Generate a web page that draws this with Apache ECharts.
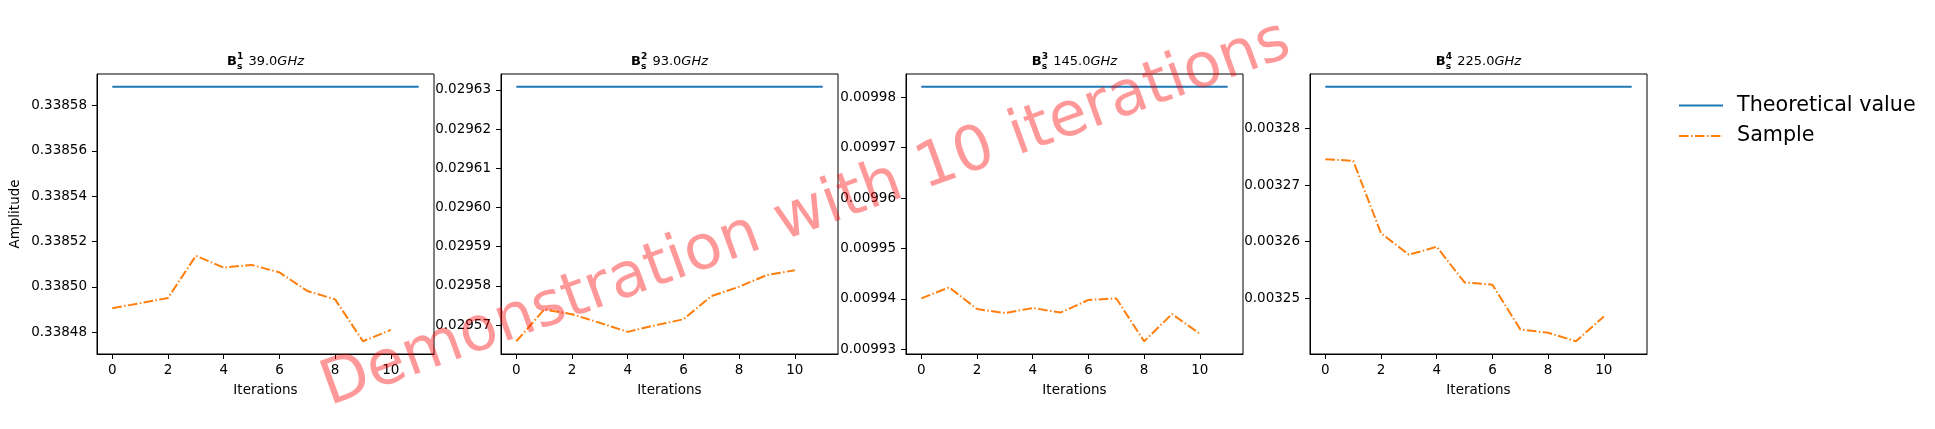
<!DOCTYPE html>
<html>
<head>
<meta charset="utf-8">
<script src="https://cdn.jsdelivr.net/npm/echarts@6/dist/echarts.min.js"></script>
<style>
  html, body { margin: 0; padding: 0; background: #fff; }
  #main { width: 1935px; height: 429px; }
</style>
</head>
<body>
<div id="main"></div>
<script>
// data
var iterations = [0, 1, 2, 3, 4, 5, 6, 7, 8, 9, 10];
var theoryIterations = [0, 1, 2, 3, 4, 5, 6, 7, 8, 9, 10, 11];
var frequencies = [39.0, 93.0, 145.0, 225.0];
var theoretical = [0.3385883, 0.0296308, 0.0099821, 0.0032874];

var sample1 = [0.3384906, 0.3384928, 0.3384951, 0.3385137, 0.3385085, 0.3385097, 0.3385064, 0.3384982, 0.3384945, 0.3384760, 0.3384810];
var sample2 = [0.0295659, 0.0295740, 0.0295728, 0.0295706, 0.0295683, 0.0295700, 0.0295715, 0.0295774, 0.0295798, 0.0295828, 0.0295840];
var sample3 = [0.0099401, 0.0099423, 0.0099380, 0.0099372, 0.0099382, 0.0099373, 0.0099398, 0.0099401, 0.0099316, 0.0099370, 0.0099331];
var sample4 = [0.0032746, 0.0032743, 0.0032615, 0.0032577, 0.0032591, 0.0032528, 0.0032524, 0.0032445, 0.0032439, 0.0032424, 0.0032468];

var xTicks = [0, 2, 4, 6, 8, 10];
var yTicks1 = [0.33848, 0.33850, 0.33852, 0.33854, 0.33856, 0.33858];
var yTicks2 = [0.02957, 0.02958, 0.02959, 0.02960, 0.02961, 0.02962, 0.02963];
var yTicks3 = [0.00993, 0.00994, 0.00995, 0.00996, 0.00997, 0.00998];
var yTicks4 = [0.00325, 0.00326, 0.00327, 0.00328];

var samples = [sample1, sample2, sample3, sample4];
var yTicks = [yTicks1, yTicks2, yTicks3, yTicks4];

var FONT = 'DejaVu Sans';
var gridLefts = [97, 501, 906, 1310];
var gridTop = 74, gridW = 337, gridH = 280;

var chart = echarts.init(document.getElementById('main'));

// canvas used only to measure title pieces
var ctx = document.createElement('canvas').getContext('2d');
function measure(text, font) {
  ctx.font = font;
  return ctx.measureText(text).width;
}

var grids = [], xAxes = [], yAxes = [], series = [], graphics = [];

for (var i = 0; i < 4; i++) {
  var vals = samples[i].concat([theoretical[i]]);
  var lo = Math.min.apply(null, vals), hi = Math.max.apply(null, vals);
  var pad = (hi - lo) * 0.05;

  grids.push({
    left: gridLefts[i], top: gridTop, width: gridW, height: gridH,
    show: true, borderColor: '#000', borderWidth: 1, backgroundColor: 'transparent'
  });

  xAxes.push({
    type: 'value', gridIndex: i, min: -0.55, max: 11.55,
    axisLine: { show: true, onZero: false, lineStyle: { color: '#000', width: 1 } },
    axisTick: { show: true, length: 5, customValues: xTicks, lineStyle: { color: '#000' } },
    axisLabel: { customValues: xTicks, color: '#000', fontSize: 13.5, fontFamily: FONT, margin: 9 },
    splitLine: { show: false },
    name: 'Iterations', nameLocation: 'middle', nameGap: 29,
    nameTextStyle: { color: '#000', fontSize: 13.5, fontFamily: FONT }
  });

  var yAxis = {
    type: 'value', gridIndex: i, min: lo - pad, max: hi + pad, scale: true,
    axisLine: { show: true, onZero: false, lineStyle: { color: '#000', width: 1 } },
    axisTick: { show: true, length: 5, customValues: yTicks[i], lineStyle: { color: '#000' } },
    axisLabel: {
      customValues: yTicks[i], color: '#000', fontSize: 13.5, fontFamily: FONT, margin: 10,
      formatter: function (v) { return v.toFixed(5); }
    },
    splitLine: { show: false }
  };
  if (i === 0) {
    yAxis.name = 'Amplitude';
    yAxis.nameLocation = 'middle';
    yAxis.nameGap = 75;
    yAxis.nameTextStyle = { color: '#000', fontSize: 13.5, fontFamily: FONT };
  }
  yAxes.push(yAxis);

  series.push({
    type: 'line', name: 'Theoretical value', xAxisIndex: i, yAxisIndex: i,
    data: theoryIterations.map(function (x) { return [x, theoretical[i]]; }),
    symbol: 'none', lineStyle: { color: '#1f77b4', width: 2 }, itemStyle: { color: '#1f77b4' },
    animation: false
  });
  series.push({
    type: 'line', name: 'Sample', xAxisIndex: i, yAxisIndex: i,
    data: iterations.map(function (x, k) { return [x, samples[i][k]]; }),
    symbol: 'none', lineStyle: { color: '#ff7f0e', width: 2, type: [9.6, 2.4, 1.5, 2.4] },
    itemStyle: { color: '#ff7f0e' },
    animation: false
  });

  // title: bold B with stacked sub "s" and sup index, then frequency
  var fMain = '13px "' + FONT + '"';
  var fBold = 'bold 13px "' + FONT + '"';
  var fSmall = 'bold 9.1px "' + FONT + '"';
  var fItal = 'italic 13px "' + FONT + '"';
  var idx = String(i + 1);
  var numText = ' ' + frequencies[i].toFixed(1);
  var wB = measure('B', fBold);
  var wS = Math.max(measure(idx, fSmall), measure('s', fSmall)) + 1;
  var wN = measure(numText, fMain);
  var wG = measure('GHz', fItal);
  var cx = gridLefts[i] + gridW / 2;
  var x0 = cx - (wB + wS + wN + wG) / 2;
  var ty = 61.5;
  var pieces = [
    { t: 'B', f: fBold, x: x0, y: ty },
    { t: idx, f: fSmall, x: x0 + wB, y: ty - 4.8 },
    { t: 's', f: fSmall, x: x0 + wB, y: ty + 5 },
    { t: numText, f: fMain, x: x0 + wB + wS, y: ty },
    { t: 'GHz', f: fItal, x: x0 + wB + wS + wN, y: ty }
  ];
  pieces.forEach(function (p) {
    graphics.push({
      type: 'text', x: p.x, y: p.y,
      style: {
        text: p.t, font: p.f, fill: '#000',
        align: 'left', verticalAlign: 'middle',
        textAlign: 'left', textVerticalAlign: 'middle'
      }
    });
  });
}

// watermark
graphics.push({
  type: 'text', x: 806, y: 215, rotation: 20 * Math.PI / 180, z: 100,
  style: {
    text: 'Demonstration with 10 iterations',
    font: '62px "' + FONT + '"', fill: 'rgba(255,0,0,0.4)',
    align: 'center', verticalAlign: 'middle',
    textAlign: 'center', textVerticalAlign: 'middle'
  }
});

chart.setOption({
  backgroundColor: '#fff',
  animation: false,
  grid: grids,
  xAxis: xAxes,
  yAxis: yAxes,
  legend: {
    data: ['Theoretical value', 'Sample'],
    orient: 'vertical', left: 1678, top: 95, padding: 0,
    itemWidth: 44, itemHeight: 14, itemGap: 9.5,
    itemStyle: { opacity: 0 },
    textStyle: { color: '#000', fontSize: 20.7, fontFamily: FONT, padding: [0, 0, 0, 9], lineHeight: 21 }
  },
  series: series,
  graphic: graphics
});
</script>
</body>
</html>
